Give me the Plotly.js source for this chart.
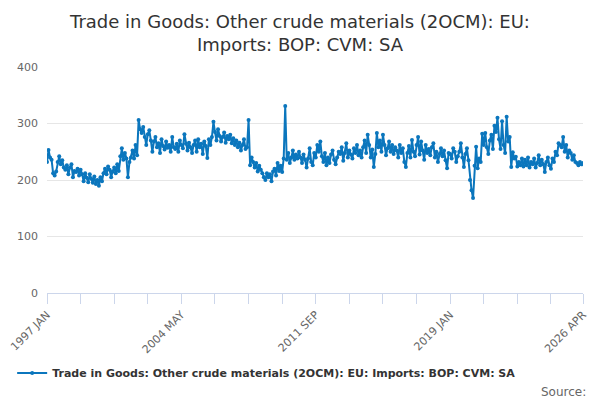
<!DOCTYPE html>
<html>
<head>
<meta charset="utf-8">
<script src="https://cdn.plot.ly/plotly-3.0.1.min.js"></script>
<style>
body { margin: 0; background: #fff; }
#chart { width: 600px; height: 400px; }
</style>
</head>
<body>
<div id="chart"></div>
<script>
const seriesName = "Trade in Goods: Other crude materials (2OCM): EU: Imports: BOP: CVM: SA";
const monthNames = ["JAN","FEB","MAR","APR","MAY","JUN","JUL","AUG","SEP","OCT","NOV","DEC"];
const firstYear = 1997;

// monthly values, 1997 JAN .. 2026 APR
const imports = [
232, 253, 240, 236, 212, 208, 215, 232, 242, 228, 235, 222,
218, 226, 210, 222, 228, 205, 216, 214, 220, 208, 218, 210,
198, 212, 204, 196, 210, 202, 195, 206, 193, 200, 190, 205,
198, 212, 220, 210, 224, 218, 205, 215, 222, 212, 228, 216,
242, 256, 236, 248, 238, 205, 232, 240, 252, 238, 262, 244,
306, 290, 283, 294, 276, 262, 281, 288, 270, 250, 268, 276,
258, 265, 248, 272, 260, 254, 268, 257, 262, 250, 276, 258,
255, 264, 250, 270, 262, 256, 281, 264, 252, 266, 258, 248,
262, 270, 250, 272, 258, 264, 246, 268, 260, 239, 272, 262,
276, 303, 285, 270, 290, 278, 268, 276, 284, 266, 278, 272,
280, 265, 274, 262, 270, 258, 266, 252, 262, 272, 255, 258,
306, 226, 240, 232, 222, 230, 215, 225, 218, 212, 205, 200,
212, 205, 210, 198, 215, 220, 208, 230, 216, 225, 214, 238,
331, 236, 248, 230, 240, 252, 236, 245, 238, 250, 240, 230,
245, 236, 222, 238, 256, 232, 226, 248, 240, 262, 250, 268,
242, 232, 248, 226, 240, 230, 245, 252, 236, 228, 240, 250,
246, 258, 234, 248, 265, 240, 252, 245, 238, 256, 248, 262,
244, 252, 240, 258, 270, 248, 280, 262, 240, 254, 223, 246,
283, 258, 270, 250, 280, 262, 244, 256, 268, 250, 262, 246,
258, 252, 240, 262, 248, 256, 232, 223, 248, 260, 240, 271,
250, 242, 262, 276, 245, 268, 252, 236, 262, 248, 255, 244,
258, 265, 240, 250, 232, 246, 256, 242, 252, 235, 221, 248,
246, 238, 256, 250, 232, 242, 250, 265, 240, 223, 246, 256,
235, 200, 182, 168, 225, 259, 221, 238, 232, 282, 262, 283,
258, 246, 270, 280, 255, 296, 285, 310, 272, 255, 304, 262,
248, 312, 268, 276, 223, 249, 238, 241, 224, 232, 226, 238,
224, 236, 226, 240, 222, 232, 228, 238, 222, 230, 244, 226,
236, 228, 214, 232, 240, 226, 220, 238, 232, 250, 244, 265,
262, 258, 276, 250, 262, 240, 252, 248, 236, 244, 232, 230,
226, 232, 228, 230
];

const labeledTicks = ["1997 JAN", "2004 MAY", "2011 SEP", "2019 JAN", "2026 APR"];
const yTicks = [0, 100, 200, 300, 400];

// category labels
const periods = imports.map((v, i) =>
  (firstYear + Math.floor(i / 12)) + " " + monthNames[i % 12]);

// a tick every 22 months plus the last period, text only on some
const tickVals = [];
for (let i = 0; i < periods.length; i += 22) tickVals.push(periods[i]);
tickVals.push(periods[periods.length - 1]);
const tickText = tickVals.map(p => labeledTicks.includes(p) ? p : "");

const data = [{
  x: periods,
  y: imports,
  type: "scatter",
  mode: "lines+markers",
  name: seriesName,
  line: {color: "#0b76bd", width: 2},
  marker: {color: "#0b76bd", size: 4}
}];

const layout = {
  width: 600,
  height: 400,
  font: {family: "DejaVu Sans, sans-serif", color: "#666"},
  title: {
    text: "Trade in Goods: Other crude materials (2OCM): EU:<br>Imports: BOP: CVM: SA",
    font: {size: 18, color: "#333"},
    x: 0.5,
    xanchor: "center",
    y: 0.93,
    yref: "container",
    yanchor: "top"
  },
  margin: {t: 67, l: 47, r: 17, b: 107, autoexpand: false},
  xaxis: {
    type: "category",
    range: [0, periods.length - 1],
    tickvals: tickVals,
    ticktext: tickText,
    tickangle: -45,
    ticks: "outside",
    ticklen: 10,
    tickcolor: "#ccd6eb",
    showline: true,
    linecolor: "#ccd6eb",
    showgrid: false,
    tickfont: {size: 11, color: "#666"}
  },
  yaxis: {
    range: [0, 400],
    tickvals: yTicks,
    gridcolor: "#e6e6e6",
    zeroline: false,
    tickfont: {size: 11, color: "#666"},
    ticklabelstandoff: 8
  },
  showlegend: true,
  legend: {
    orientation: "h",
    x: -0.065,
    xanchor: "left",
    y: -0.29,
    yanchor: "top",
    yref: "paper",
    itemwidth: 30,
    font: {size: 11, color: "#333", weight: "bold"}
  },
  annotations: [{
    text: "Source:",
    xref: "paper", yref: "paper",
    x: 1.01, y: -0.4,
    xanchor: "right", yanchor: "top",
    showarrow: false,
    font: {size: 12, color: "#666"}
  }],
  plot_bgcolor: "#fff",
  paper_bgcolor: "#fff"
};

var config = {responsive: false, displayModeBar: false, staticPlot: true};

Plotly.newPlot("chart", data, layout, config);
</script>
</body>
</html>
